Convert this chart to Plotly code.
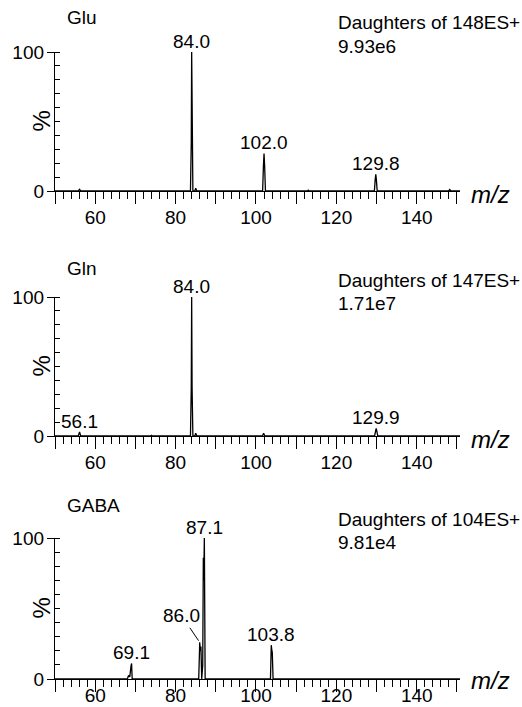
import plotly.graph_objects as go

W, H = 522, 707
FONT = "Liberation Sans, Arial, Helvetica, sans-serif"

# ---------------- data ----------------
compounds = ["Glu", "Gln", "GABA"]
precursors = ["148ES+", "147ES+", "104ES+"]
base_intensity = ["9.93e6", "1.71e7", "9.81e4"]

glu_mz = [50.0, 55.8, 56.1, 56.4, 83.7, 83.9, 84.0, 84.1, 84.3, 84.8, 85.0, 85.3,
          101.65, 101.85, 102.0, 102.15, 102.35, 112.8, 113.0, 113.2,
          129.45, 129.65, 129.8, 129.95, 130.15, 147.9, 148.2, 148.5, 150.75]
glu_int = [0, 0, 1.2, 0, 0, 35, 100, 35, 0, 0, 2.0, 0,
           0, 18, 27, 18, 0, 0, 0.6, 0,
           0, 8, 12, 8, 0, 0, 1.0, 0, 0]

gln_mz = [50.0, 55.8, 56.1, 56.4, 73.8, 74.0, 74.2, 83.7, 83.9, 84.0, 84.1, 84.3,
          84.8, 85.0, 85.3, 95.0, 95.2, 95.4, 101.6, 101.9, 102.2,
          129.5, 129.7, 129.9, 130.1, 130.3, 150.75]
gln_int = [0, 0, 3.0, 0, 0, 0.5, 0, 0, 35, 100, 35, 0,
           0, 2.0, 0, 0, 0.4, 0, 0, 2.0, 0,
           0, 3.0, 5.5, 3.0, 0, 0]

gaba_mz = [50.0, 68.0, 68.3, 68.6, 68.9, 69.05, 69.2, 85.75, 85.95, 86.0, 86.15, 86.3,
           86.5, 86.75, 86.9, 87.0, 87.15, 87.35, 103.6, 103.8, 103.95, 104.05, 104.25, 150.75]
gaba_int = [0, 0, 2.5, 1.5, 9, 11, 0, 0, 20, 26, 20, 23,
            0, 10, 86, 70, 100, 0, 0, 24, 20, 19, 0, 0]

spectra_mz = [glu_mz, gln_mz, gaba_mz]
spectra_int = [glu_int, gln_int, gaba_int]

glu_label_mz = [84.0, 102.0, 129.8]
glu_label_int = [100, 27, 12]
gln_label_mz = [56.1, 84.0, 129.9]
gln_label_int = [3.0, 100, 5.5]
gaba_label_mz = [69.1, 87.1, 103.8]
gaba_label_int = [11, 100, 24]
gaba_lead_mz = 86.0       # label drawn with a leader line
gaba_lead_int = 26

labels_mz = [glu_label_mz, gln_label_mz, gaba_label_mz]
labels_int = [glu_label_int, gln_label_int, gaba_label_int]

x_tickvals = [50, 60, 70, 80, 90, 100, 110, 120, 130, 140, 150]
x_ticktext = ["", "60", "", "80", "", "100", "", "120", "", "140", ""]
y_tickvals = [0, 100]
y_ticktext = ["0", "100"]

# ---------------- layout geometry (pixels) ----------------
X_LEFT, X_RIGHT = 55, 460
X_RANGE = [50, 150.75]
panel_px = [  # (y of 0, y of 100)
    (191, 52),
    (436, 297),
    (679, 538),
]
title_mid = [17.5, 268.5, 506]
daughters_mid = [22.7, 280, 519.7]
tic_mid = [46.7, 303.3, 542.7]
x_label_standoff = [-3, -3, -13]
mz_offset = [3.5, 3.0, 1.5]
FS = 19


def px_x(p):
    return p / W


def px_y(p):
    return 1 - p / H


fig = go.Figure()
annotations = []

for i in range(3):
    n = "" if i == 0 else str(i + 1)
    y0, y100 = panel_px[i]
    fig.add_trace(go.Scatter(
        x=spectra_mz[i], y=spectra_int[i], mode="lines",
        line=dict(color="black", width=1.3),
        xaxis="x" + n, yaxis="y" + n, showlegend=False, hoverinfo="skip",
    ))
    axis_common = dict(showline=True, linecolor="black", linewidth=1.3,
                       showgrid=False, zeroline=False, ticks="outside",
                       tickcolor="black", tickwidth=1.3, automargin=False,
                       tickfont=dict(family=FONT, size=FS, color="black"))
    fig.layout["xaxis" + n] = dict(
        axis_common, domain=[px_x(X_LEFT), px_x(X_RIGHT)], range=X_RANGE,
        anchor="y" + n, tickmode="array", tickvals=x_tickvals, ticktext=x_ticktext,
        ticklen=12, ticklabelstandoff=x_label_standoff[i],
        minor=dict(tickmode="linear", tick0=50, dtick=2, ticks="outside",
                   ticklen=7, tickwidth=1.1, tickcolor="black"),
    )
    fig.layout["yaxis" + n] = dict(
        axis_common, domain=[px_y(y0), px_y(y100)], range=[0, 100],
        anchor="x" + n, tickmode="array", tickvals=y_tickvals, ticktext=y_ticktext,
        ticklen=7, ticklabelstandoff=-1,
        minor=dict(tickmode="linear", tick0=0, dtick=10, ticks="inside",
                   ticklen=5, tickwidth=1.1, tickcolor="black"),
    )
    # titles and header text
    annotations.append(dict(text=compounds[i], x=px_x(65), y=px_y(title_mid[i]),
                            xref="paper", yref="paper", xanchor="left", yanchor="middle",
                            showarrow=False, font=dict(family=FONT, size=FS)))
    annotations.append(dict(text="Daughters of " + precursors[i], x=px_x(336),
                            y=px_y(daughters_mid[i]), xref="paper", yref="paper",
                            xanchor="left", yanchor="middle", showarrow=False,
                            font=dict(family=FONT, size=FS)))
    annotations.append(dict(text=base_intensity[i], x=px_x(336), y=px_y(tic_mid[i]),
                            xref="paper", yref="paper", xanchor="left", yanchor="middle",
                            showarrow=False, font=dict(family=FONT, size=FS)))
    # % y title
    annotations.append(dict(text="%", x=px_x(41), y=px_y((y0 + y100) / 2),
                            xref="paper", yref="paper", xanchor="center", yanchor="middle",
                            textangle=-90, showarrow=False, font=dict(family=FONT, size=24)))
    # m/z
    annotations.append(dict(text="<i>m/z</i>", x=px_x(469), y=px_y(y0 + mz_offset[i]),
                            xref="paper", yref="paper", xanchor="left", yanchor="middle",
                            showarrow=False, font=dict(family=FONT, size=24)))
    # peak labels
    for mz, it in zip(labels_mz[i], labels_int[i]):
        annotations.append(dict(text=f"{mz:.1f}", x=mz, y=it, xref="x" + n, yref="y" + n,
                                xanchor="center", yanchor="middle", yshift=10.5,
                                showarrow=False, font=dict(family=FONT, size=FS)))

# label with leader line (GABA 86.0)
annotations.append(dict(text=f"{gaba_lead_mz:.1f}", x=gaba_lead_mz, y=gaba_lead_int,
                        xref="x3", yref="y3", showarrow=True, arrowhead=0, arrowwidth=1,
                        arrowcolor="black", ax=-18, ay=-26.5, standoff=2,
                        xanchor="center", yanchor="middle",
                        font=dict(family=FONT, size=FS)))

fig.update_layout(
    width=W, height=H, margin=dict(l=0, r=0, t=0, b=0, pad=0, autoexpand=False),
    paper_bgcolor="white", plot_bgcolor="white",
    font=dict(family=FONT, size=FS, color="black"),
    annotations=annotations, showlegend=False,
)

fig.write_html("out.html")
